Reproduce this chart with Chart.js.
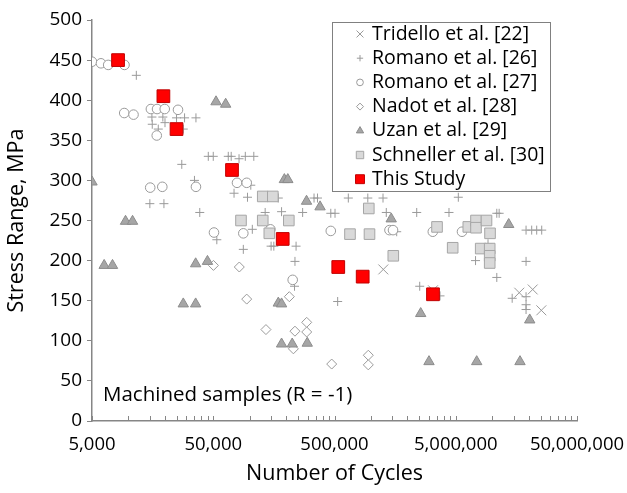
<!DOCTYPE html>
<html>
<head>
<meta charset="utf-8">
<script src="https://cdn.jsdelivr.net/npm/chart.js@4/dist/chart.umd.min.js"></script>
<style>
  body { margin: 0; background: #fff; }
  #wrap { width: 627px; height: 493px; }
</style>
</head>
<body>
<div id="wrap"><canvas id="chart1"></canvas></div>
<script>
// axis ticks
const xTickLabels = [5000, 50000, 500000, 5000000, 50000000];
const yTickStep = 50;

// Number of cycles (N) and stress range (MPa) for each source
const tridelloN = [1263000, 3246000, 16700000, 21560000, 25400000];
const tridelloS = [189, 163, 160, 164, 138];

const romano26N = [11600, 15600, 15700, 19200, 20000, 17600, 24900, 29000, 36000, 28300,
    27500, 45500, 50000, 66500, 70300, 81600, 91900, 108000, 15000, 19600,
    35000, 38700, 53500, 74200, 95800, 102000, 105000, 88500, 134000, 150000,
    158000, 172000, 183000, 234000, 236000, 241000, 273000, 339000, 362000, 466000,
    505000, 531000, 650000, 941000, 1256000, 1337000, 1629000, 2382000, 2522000, 3708000,
    4398000, 5250000, 7280000, 9230000, 10900000, 10900000, 11400000, 14600000, 19000000, 19000000,
    19000000, 21150000, 23260000, 25580000, 19000000, 19000000];
const romano26S = [431, 379, 370, 379, 372, 364, 378, 378, 378, 364,
    320, 330, 330, 330, 330, 327, 330, 330, 271, 271,
    300, 260, 226, 284, 279, 294, 239, 214, 260, 218,
    218, 278, 261, 168, 199, 218, 260, 278, 278, 259,
    259, 149, 278, 278, 278, 260, 236, 260, 168, 156,
    260, 279, 200, 221, 179, 259, 259, 153, 155, 199,
    238, 238, 238, 238, 145, 139];

const romano27N = [5000, 5930, 6800, 9270, 9220, 11000, 15300, 17200, 19900, 25600,
    17100, 15100, 19000, 36000, 78500, 94400, 50700, 88500, 148000, 226000,
    466000, 1420000, 1519000, 3234000, 5630000];
const romano27S = [448, 446, 444, 444, 384, 382, 389, 389, 389, 388,
    356, 291, 292, 292, 297, 297, 235, 234, 239, 176,
    237, 238, 238, 236, 236];

const nadotN = [50200, 82000, 94400, 136000, 212000, 236000, 295000, 295000, 229000, 474000, 950000, 950000];
const nadotS = [194, 192, 152, 114, 155, 112, 123, 111, 90, 71, 82, 70];

const uzanN = [5000, 6300, 7380, 9450, 10800, 28300, 35800, 35800, 44800, 52700,
    63300, 172000, 183000, 193000, 206000, 183000, 224000, 298000, 294000, 380000,
    1468000, 2570000, 3008000, 7444000, 16940000, 13670000, 20370000];
const uzanS = [298, 194, 194, 249, 249, 146, 146, 196, 199, 398,
    395, 147, 146, 301, 301, 96, 96, 97, 274, 267,
    252, 134, 74, 74, 74, 245, 126];

const schnellerN = [84700, 128000, 155000, 128000, 145000, 210000, 671000, 972000, 959000, 1527000,
    3503000, 4718000, 6345000, 7345000, 7345000, 8965000, 9584000, 8030000, 9527000, 9527000, 9527000];
const schnellerS = [250, 280, 280, 250, 234, 250, 233, 233, 265, 206,
    242, 216, 242, 250, 241, 250, 234, 215, 215, 206, 197];

const studyN = [8200, 19400, 24900, 71400, 187000, 537000, 854000, 3246000];
const studyS = [450, 405, 364, 313, 227, 192, 180, 158];

const noteText = 'Machined samples (R = -1)';
const FONT = '"Open Sans", sans-serif';

function pts(ns, ss) {
    return ns.map((n, i) => ({ x: n, y: ss[i] }));
}

function series(label, ns, ss, style, radius, fill, stroke, order) {
    return {
        label,
        data: pts(ns, ss),
        pointStyle: style,
        pointRadius: radius,
        pointHoverRadius: radius,
        pointBackgroundColor: fill,
        pointBorderColor: stroke,
        pointBorderWidth: 1,
        showLine: false,
        order
    };
}

const datasets = [
    series('Tridello et al. [22]', tridelloN, tridelloS, 'crossRot', 7, '#9a9a9a', '#9a9a9a', 7),
    series('Romano et al. [26]', romano26N, romano26S, 'cross', 4.5, '#9a9a9a', '#9a9a9a', 6),
    series('Romano et al. [27]', romano27N, romano27S, 'circle', 4.8, '#ffffff', '#9a9a9a', 5),
    series('Nadot et al. [28]', nadotN, nadotS, 'rectRot', 5, '#ffffff', '#9a9a9a', 4),
    series('Uzan et al. [29]', uzanN, uzanS, 'triangle', 6, '#a6a6a6', '#8c8c8c', 3),
    series('Schneller et al. [30]', schnellerN, schnellerS, 'rect', 7.5, '#d9d9d9', '#a6a6a6', 2),
    series('This Study', studyN, studyS, 'rect', 9, '#ff0000', '#c00000', 1)
];

// inward x ticks, the boxed legend and the note
const extras = {
    id: 'extras',
    afterDraw(chart) {
        const ctx = chart.ctx;
        const area = chart.chartArea;
        const xs = chart.scales.x;
        ctx.save();
        ctx.strokeStyle = '#868686';
        ctx.lineWidth = 1;
        xs.ticks.forEach(t => {
            const px = Math.round(xs.getPixelForValue(t.value)) + 0.5;
            ctx.beginPath();
            ctx.moveTo(px, area.bottom);
            ctx.lineTo(px, area.bottom - 5);
            ctx.stroke();
        });

        // legend box
        const bx = area.left + 240, by = area.top + 2, bw = 218, bh = 169;
        ctx.fillStyle = '#ffffff';
        ctx.fillRect(bx, by, bw, bh);
        ctx.strokeStyle = '#808080';
        ctx.strokeRect(bx + 0.5, by + 0.5, bw, bh);
        ctx.font = '19.5px ' + FONT;
        ctx.textBaseline = 'middle';
        chart.data.datasets.forEach((ds, i) => {
            const cy = by + 12 + i * 24.2;
            ctx.fillStyle = ds.pointBackgroundColor;
            ctx.strokeStyle = ds.pointBorderColor;
            ctx.lineWidth = 1;
            Chart.helpers.drawPoint(ctx, {
                pointStyle: ds.pointStyle,
                radius: ds.pointRadius * 0.7,
                rotation: 0,
                borderWidth: 1
            }, bx + 28, cy);
            ctx.fillStyle = '#000000';
            ctx.fillText(ds.label, bx + 40, cy);
        });

        ctx.font = '20.5px ' + FONT;
        ctx.fillStyle = '#000000';
        ctx.textBaseline = 'middle';
        ctx.fillText(noteText, area.left + 11, area.bottom - 26);
        ctx.restore();
    }
};

new Chart(document.getElementById('chart1'), {
    type: 'scatter',
    data: { datasets },
    options: {
        responsive: true,
        maintainAspectRatio: false,
        animation: false,
        layout: { padding: { top: 20, right: 50, left: 0, bottom: 0 } },
        plugins: {
            legend: { display: false },
            tooltip: { enabled: false }
        },
        scales: {
            x: {
                type: 'logarithmic',
                min: xTickLabels[0],
                max: xTickLabels[xTickLabels.length - 1],
                afterBuildTicks: (scale) => {
                    const ticks = [];
                    xTickLabels.forEach(d => {
                        for (let k = 1; k <= 9; k++) {
                            if (d * k <= scale.max) ticks.push({ value: d * k });
                        }
                    });
                    scale.ticks = ticks;
                },
                afterFit: (scale) => {
                    scale.height = 72;
                    scale.paddingRight = 0;
                    scale.paddingLeft = 0;
                },
                grid: { display: false },
                border: { display: true, color: '#868686', width: 1.5 },
                ticks: {
                    autoSkip: false,
                    maxRotation: 0,
                    padding: 5,
                    color: '#000',
                    font: { family: FONT, size: 18.5 },
                    callback: (v) => xTickLabels.includes(v) ? v.toLocaleString('en-US') : ''
                },
                title: {
                    display: true,
                    text: 'Number of Cycles',
                    color: '#000',
                    font: { family: FONT, size: 21.5 },
                    padding: { top: 0, bottom: 6 }
                }
            },
            y: {
                min: 0,
                max: 500,
                afterFit: (scale) => { scale.width = 92; },
                grid: { display: true, drawOnChartArea: false, drawTicks: true, tickLength: 5, color: '#868686' },
                border: { display: true, color: '#868686', width: 1.5 },
                ticks: {
                    stepSize: yTickStep,
                    padding: 5,
                    color: '#000',
                    font: { family: FONT, size: 19 }
                },
                title: {
                    display: true,
                    text: 'Stress Range, MPa',
                    color: '#000',
                    font: { family: FONT, size: 21.5 },
                    padding: { top: 4, bottom: 4 }
                }
            }
        }
    },
    plugins: [extras]
});
</script>
</body>
</html>
